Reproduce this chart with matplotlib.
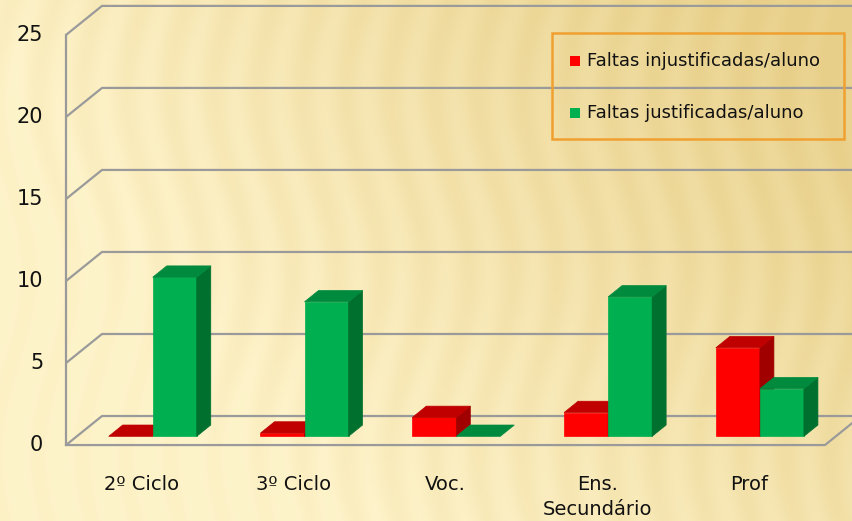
import matplotlib.pyplot as plt
import numpy as np
from matplotlib.patches import Polygon, Rectangle

plt.rcParams['font.family'] = ['DejaVu Sans']

categories = ['2º Ciclo', '3º Ciclo', 'Voc.', 'Ens.\nSecundário', 'Prof']
injustificadas = [0.0, 0.2, 1.15, 1.45, 5.4]
justificadas = [9.7, 8.2, 0.0, 8.5, 2.9]
series_names = ['Faltas injustificadas/aluno', 'Faltas justificadas/aluno']
yticks = [0, 5, 10, 15, 20, 25]

# face colours: front, top, side
red = ('#ff0000', '#c00000', '#a00000')
green = ('#00b050', '#008a3e', '#00702f')

fig = plt.figure(figsize=(8.52, 5.21), dpi=100)
ax = fig.add_axes([0, 0, 1, 1])
ax.set_xlim(-0.935, 4.678)
ax.set_ylim(-4.63, 27.13)
ax.axis('off')

# background: warm paper gradient with soft vertical streaks
h, w = 521, 852
yy, xx = np.mgrid[0:h, 0:w] / np.array([h, w])[:, None, None]
t = np.clip(0.10 + 0.75 * xx - 0.35 * yy + 0.25 * xx * (1 - yy), 0, 1)
streak = 0.5 + 0.5 * np.sin(xx * w / 7.0 + 2.5 * np.sin(yy * 9))
t = np.clip(t + 0.16 * streak - 0.08, 0, 1)
light = np.array([254, 243, 202]) / 255
dark = np.array([232, 208, 138]) / 255
img = light + t[..., None] * (dark - light)
ax.imshow(img, extent=(-0.935, 4.678, -4.63, 27.13), aspect='auto', zorder=0)

DX, DY = 0.237, 1.77        # full depth of the chart box
f0, f1 = 0.30, 0.69         # bar depth range
n = len(categories)
left, right = -0.5, n - 0.5
grid_c = '#9a9a9a'

# back wall gridlines + left wall
for v in yticks:
    ax.plot([left, left + DX, right + DX + 0.2], [v, v + DY, v + DY],
            color=grid_c, lw=1.6, zorder=1, solid_capstyle='butt')
    ax.text(left - 0.15, v, str(v), ha='right', va='center', fontsize=15,
            color='#111111')
ax.plot([left, left], [0, yticks[-1]], color=grid_c, lw=1.6, zorder=1)
# floor edges
ax.plot([left, right, right + DX], [0, 0, DY], color=grid_c, lw=1.6, zorder=1)


def bar3d(x0, wd, hv, cols):
    fr, tp, sd = cols
    a, b = x0 + f0 * DX, x0 + wd + f0 * DX
    c, d = x0 + f1 * DX, x0 + wd + f1 * DX
    y0, y1 = f0 * DY, f1 * DY
    if hv > 0:
        ax.add_patch(Polygon([(a, y0), (b, y0), (b, y0 + hv), (a, y0 + hv)],
                             closed=True, fc=fr, ec=fr, lw=0.5, zorder=3))
        ax.add_patch(Polygon([(b, y0), (d, y1), (d, y1 + hv), (b, y0 + hv)],
                             closed=True, fc=sd, ec=sd, lw=0.5, zorder=3))
    ax.add_patch(Polygon([(a, y0 + hv), (b, y0 + hv), (d, y1 + hv), (c, y1 + hv)],
                         closed=True, fc=tp, ec=tp, lw=0.5, zorder=3))


bw = 0.29
for i in range(n):
    bar3d(i - bw, bw, injustificadas[i], red)
    bar3d(i, bw, justificadas[i], green)

for i, lab in enumerate(categories):
    ax.text(i, -1.8, lab, ha='center', va='top', fontsize=14,
            color='#111111', linespacing=1.4)

# legend box
ax.add_patch(Rectangle((552 / 852, 1 - 139 / 521), 292 / 852, 106 / 521,
                       transform=ax.transAxes, fill=False, ec='#f0a030',
                       lw=1.8, zorder=5))
for k, (name, col) in enumerate(zip(series_names, [red[0], green[0]])):
    yp = 1 - (61 + 52 * k) / 521
    ax.add_patch(Rectangle((570 / 852, yp - 5 / 521), 10 / 852, 10 / 521,
                           transform=ax.transAxes, fc=col, ec='none', zorder=5))
    ax.text(587 / 852, yp, name, transform=ax.transAxes, ha='left',
            va='center', fontsize=13, color='#111111', zorder=5)

fig.savefig('out.png', dpi=100)
